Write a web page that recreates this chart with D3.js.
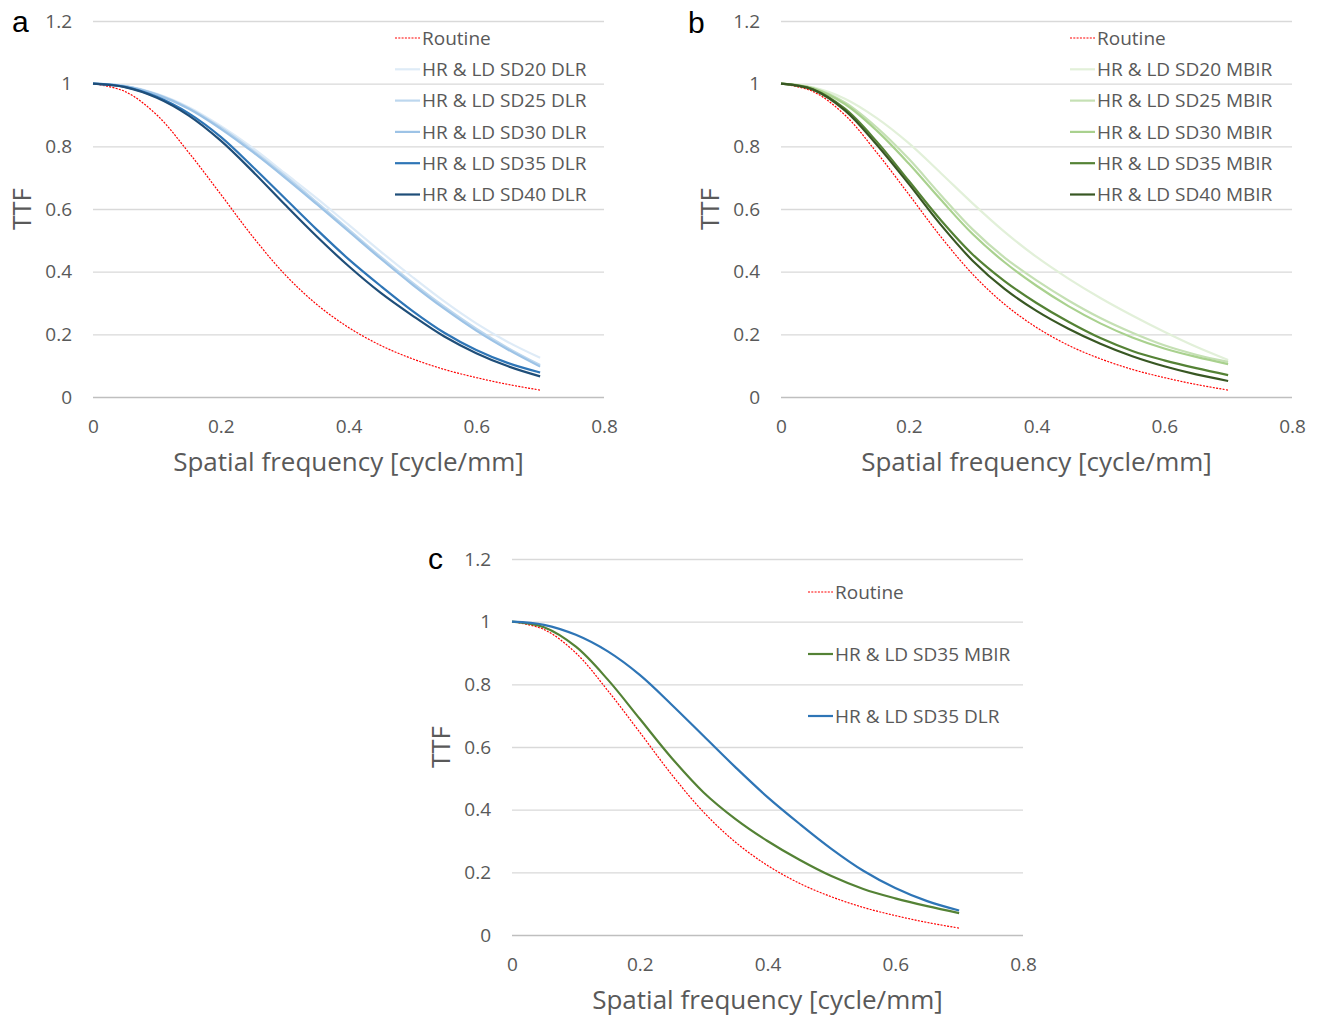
<!DOCTYPE html>
<html>
<head>
<meta charset="utf-8">
<script src="https://cdn.jsdelivr.net/npm/d3@7"></script>
<style>
  body { margin: 0; background: #fff; }
  svg text { font-family: "Open Sans", sans-serif; fill: #595959; }
  .letter { font-family: "Liberation Sans", Arial, sans-serif; fill: #000; }
</style>
</head>
<body>
<div class="canvas"></div>
<script>
// spatial frequency samples [cycle/mm]
const freq = [0, 0.05, 0.1, 0.15, 0.2, 0.25, 0.3, 0.35, 0.4, 0.45, 0.5, 0.55, 0.6, 0.65, 0.7]

const routine = [1, 0.975, 0.9, 0.78, 0.647, 0.512, 0.392, 0.296, 0.222, 0.165, 0.122, 0.088, 0.062, 0.04, 0.022]

const dlrSD20 = [1, 0.993, 0.968, 0.925, 0.865, 0.795, 0.715, 0.635, 0.55, 0.465, 0.383, 0.305, 0.235, 0.175, 0.125]
const dlrSD25 = [1, 0.992, 0.966, 0.922, 0.86, 0.787, 0.707, 0.622, 0.535, 0.448, 0.365, 0.288, 0.218, 0.156, 0.102]
const dlrSD30 = [1, 0.992, 0.965, 0.92, 0.856, 0.782, 0.701, 0.616, 0.529, 0.442, 0.359, 0.282, 0.212, 0.151, 0.097]
const dlrSD35 = [1, 0.99, 0.958, 0.905, 0.83, 0.735, 0.635, 0.535, 0.44, 0.355, 0.275, 0.205, 0.15, 0.108, 0.078]
const dlrSD40 = [1, 0.989, 0.955, 0.898, 0.818, 0.72, 0.615, 0.513, 0.418, 0.333, 0.26, 0.193, 0.14, 0.098, 0.066]

const mbirSD20 = [1, 0.988, 0.952, 0.89, 0.81, 0.715, 0.618, 0.527, 0.447, 0.378, 0.316, 0.26, 0.208, 0.16, 0.118]
const mbirSD25 = [1, 0.986, 0.94, 0.86, 0.76, 0.645, 0.535, 0.445, 0.372, 0.308, 0.252, 0.205, 0.165, 0.135, 0.112]
const mbirSD30 = [1, 0.985, 0.935, 0.85, 0.745, 0.63, 0.52, 0.43, 0.355, 0.29, 0.235, 0.19, 0.155, 0.128, 0.105]
const mbirSD35 = [1, 0.982, 0.92, 0.815, 0.69, 0.565, 0.455, 0.37, 0.3, 0.24, 0.188, 0.147, 0.117, 0.092, 0.07]
const mbirSD40 = [1, 0.981, 0.915, 0.805, 0.68, 0.55, 0.435, 0.345, 0.275, 0.218, 0.17, 0.13, 0.098, 0.072, 0.051]

const xTicks = [0, 0.2, 0.4, 0.6, 0.8]
const yTicks = [0, 0.2, 0.4, 0.6, 0.8, 1, 1.2]

const red = '#ff0000'

const panels = [
    {
        letter: 'a', letterX: 12, letterY: 32,
        left: 93, top: 21, legendX: 302, legendY: 17, legendStep: 31.3,
        series: [
            { name: 'Routine', values: routine, color: red, dotted: true },
            { name: 'HR & LD SD20 DLR', values: dlrSD20, color: '#deebf7' },
            { name: 'HR & LD SD25 DLR', values: dlrSD25, color: '#bdd7ee' },
            { name: 'HR & LD SD30 DLR', values: dlrSD30, color: '#9dc3e6' },
            { name: 'HR & LD SD35 DLR', values: dlrSD35, color: '#2e75b6' },
            { name: 'HR & LD SD40 DLR', values: dlrSD40, color: '#1f4e79' }
        ]
    },
    {
        letter: 'b', letterX: 688, letterY: 33,
        left: 781, top: 21, legendX: 289, legendY: 17, legendStep: 31.3,
        series: [
            { name: 'Routine', values: routine, color: red, dotted: true },
            { name: 'HR & LD SD20 MBIR', values: mbirSD20, color: '#e2f0d9' },
            { name: 'HR & LD SD25 MBIR', values: mbirSD25, color: '#c5e0b4' },
            { name: 'HR & LD SD30 MBIR', values: mbirSD30, color: '#a9d18e' },
            { name: 'HR & LD SD35 MBIR', values: mbirSD35, color: '#548235' },
            { name: 'HR & LD SD40 MBIR', values: mbirSD40, color: '#385723' }
        ]
    },
    {
        letter: 'c', letterX: 428, letterY: 569,
        left: 512, top: 559, legendX: 296, legendY: 33, legendStep: 62,
        series: [
            { name: 'Routine', values: routine, color: red, dotted: true },
            { name: 'HR & LD SD35 MBIR', values: mbirSD35, color: '#548235' },
            { name: 'HR & LD SD35 DLR', values: dlrSD35, color: '#2e75b6' }
        ]
    }
]

const graphWidth = 511
const graphHeight = 376

const svg = d3.select('.canvas')
    .append('svg')
    .attr('width', 1320)
    .attr('height', 1016)

const xScale = d3.scaleLinear().domain([0, 0.8]).range([0, graphWidth])
const yScale = d3.scaleLinear().domain([0, 1.2]).range([graphHeight, 0])

const lineGenerator = d3.line()
    .x((d, i) => xScale(freq[i]))
    .y(d => yScale(d))
    .curve(d3.curveCatmullRom.alpha(0.5))

panels.forEach(p => {
    svg.append('text')
        .attr('class', 'letter')
        .attr('x', p.letterX)
        .attr('y', p.letterY)
        .attr('font-size', 30)
        .text(p.letter)

    const graph = svg.append('g')
        .attr('transform', `translate(${p.left}, ${p.top})`)

    // y axis with gridlines
    const yAxis = d3.axisLeft(yScale)
        .tickValues(yTicks)
        .tickSize(-graphWidth)
        .tickPadding(21)
        .tickFormat(d3.format('~g'))

    const yAxisGroup = graph.append('g').call(yAxis)
    yAxisGroup.select('.domain').remove()
    yAxisGroup.selectAll('line')
        .attr('stroke', d => d === 0 ? '#bfbfbf' : '#d9d9d9')
        .attr('stroke-width', 1.3)
    yAxisGroup.selectAll('text')
        .attr('font-size', 19)
        .attr('fill', '#595959')
        .attr('font-family', '"Open Sans", sans-serif')

    const xAxis = d3.axisBottom(xScale)
        .tickValues(xTicks)
        .tickSize(0)
        .tickPadding(23)
        .tickFormat(d3.format('~g'))

    const xAxisGroup = graph.append('g')
        .attr('transform', `translate(0, ${graphHeight})`)
        .call(xAxis)
    xAxisGroup.select('.domain').remove()
    xAxisGroup.selectAll('text')
        .attr('font-size', 19)
        .attr('fill', '#595959')
        .attr('font-family', '"Open Sans", sans-serif')

    // axis titles
    graph.append('text')
        .attr('x', graphWidth / 2)
        .attr('y', graphHeight + 74)
        .attr('text-anchor', 'middle')
        .attr('font-size', 26)
        .text('Spatial frequency [cycle/mm]')

    graph.append('text')
        .attr('transform', `translate(${-62}, ${graphHeight / 2}) rotate(-90)`)
        .attr('text-anchor', 'middle')
        .attr('font-size', 26)
        .text('TTF')

    // curves
    p.series.forEach(s => {
        graph.append('path')
            .datum(s.values)
            .attr('fill', 'none')
            .attr('stroke', s.color)
            .attr('stroke-width', s.dotted ? 1.2 : 2.2)
            .attr('stroke-dasharray', s.dotted ? '2,1.3' : null)
            .attr('d', lineGenerator)
    })

    // legend
    const legend = graph.append('g')
        .attr('transform', `translate(${p.legendX}, ${p.legendY})`)

    p.series.forEach((s, i) => {
        const item = legend.append('g')
            .attr('transform', `translate(0, ${i * p.legendStep})`)
        item.append('line')
            .attr('x1', 0).attr('x2', 25)
            .attr('y1', 0).attr('y2', 0)
            .attr('stroke', s.color)
            .attr('stroke-width', s.dotted ? 1.2 : 2.2)
            .attr('stroke-dasharray', s.dotted ? '2,1.3' : null)
        item.append('text')
            .attr('x', 27)
            .attr('y', 0)
            .attr('dy', '0.35em')
            .attr('font-size', 19)
            .text(s.name)
    })
})
</script>
</body>
</html>
